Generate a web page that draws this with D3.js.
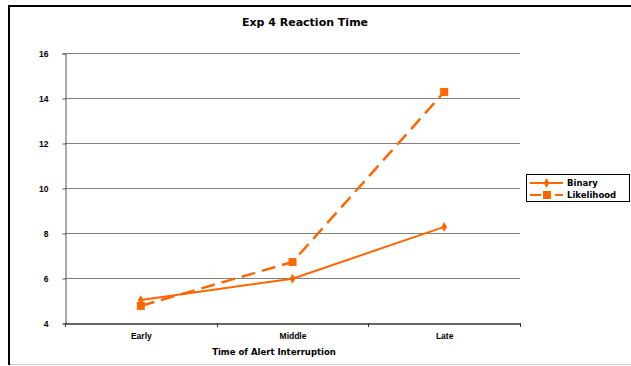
<!DOCTYPE html>
<html>
<head>
<meta charset="utf-8">
<script src="https://cdn.jsdelivr.net/npm/d3@7"></script>
<style>
  html, body { margin: 0; padding: 0; background: #fff; }
  svg { display: block; font-family: "DejaVu Sans", Verdana, sans-serif; }
</style>
</head>
<body>
<svg id="chart" width="631" height="366"></svg>
<script>
// Reaction time by alert interruption timing
const categories = ["Early", "Middle", "Late"];
const binary = [5.02, 5.97, 8.27];
const likelihood = [4.76, 6.71, 14.27];
const yTicks = [4, 6, 8, 10, 12, 14, 16];
const seriesNames = ["Binary", "Likelihood"];

const orange = "#ff6600";
const svg = d3.select("#chart");

// chart frame
svg.append("line").attr("x1", 9).attr("x2", 9).attr("y1", 5).attr("y2", 365)
  .attr("stroke", "#000").attr("stroke-width", 2);
svg.append("line").attr("x1", 8).attr("x2", 631).attr("y1", 6).attr("y2", 6)
  .attr("stroke", "#000").attr("stroke-width", 2);
svg.append("line").attr("x1", 10).attr("x2", 631).attr("y1", 364.5).attr("y2", 364.5)
  .attr("stroke", "#c8c8c8").attr("stroke-width", 1);

const plot = { left: 65, right: 520, top: 53, bottom: 323 };

const x = d3.scaleBand().domain(categories).range([plot.left, plot.right]);
const y = d3.scaleLinear().domain([4, 16]).range([plot.bottom, plot.top]);

// gridlines
svg.append("g").selectAll("line").data(yTicks.filter(t => t > 4)).join("line")
  .attr("x1", plot.left).attr("x2", plot.right)
  .attr("y1", d => Math.round(y(d)) + 0.5).attr("y2", d => Math.round(y(d)) + 0.5)
  .attr("stroke", "#808080").attr("stroke-width", 1);

// y axis
const yAxis = svg.append("g").attr("transform", `translate(${plot.left + 0.5},0.5)`)
  .call(d3.axisLeft(y).tickValues(yTicks).tickSize(3).tickPadding(14).tickFormat(d3.format("d")));
yAxis.select(".domain").attr("stroke", "#555");
yAxis.selectAll(".tick line").attr("stroke", "#555");
yAxis.selectAll("text").attr("font-size", 8.5).attr("font-weight", "bold").attr("fill", "#000");

// x axis
const xAxis = svg.append("g").attr("transform", `translate(0.5,${plot.bottom + 0.5})`)
  .call(d3.axisBottom(x).tickSize(0).tickPadding(9));
xAxis.select(".domain").attr("stroke", "#333").attr("stroke-width", 1.5);
xAxis.selectAll("text").attr("font-size", 8.5).attr("font-weight", "bold").attr("fill", "#000");
// category boundary ticks
const bounds = categories.map(c => x(c)).concat([x.range()[1]]);
svg.append("g").selectAll("line").data(bounds).join("line")
  .attr("x1", d => Math.round(d) + 0.5).attr("x2", d => Math.round(d) + 0.5)
  .attr("y1", plot.bottom).attr("y2", plot.bottom + 4)
  .attr("stroke", "#333");

// title and axis label
svg.append("text").attr("x", 305).attr("y", 26).attr("text-anchor", "middle")
  .attr("font-size", 11).attr("font-weight", "bold").text("Exp 4 Reaction Time");
svg.append("text").attr("x", 274).attr("y", 355).attr("text-anchor", "middle")
  .attr("font-size", 8.5).attr("font-weight", "bold").text("Time of Alert Interruption");

const cx = c => x(c) + x.bandwidth() / 2;
const line = d3.line().x((d, i) => cx(categories[i])).y(d => y(d));

// Likelihood series (dashed, square markers)
svg.append("path").datum(likelihood).attr("d", line)
  .attr("fill", "none").attr("stroke", orange).attr("stroke-width", 2.5)
  .attr("stroke-dasharray", "14,7");
svg.append("g").selectAll("rect").data(likelihood).join("rect")
  .attr("x", (d, i) => cx(categories[i]) - 4).attr("y", d => y(d) - 4)
  .attr("width", 8).attr("height", 8).attr("fill", orange);

// Binary series (solid, diamond markers)
svg.append("path").datum(binary).attr("d", line)
  .attr("fill", "none").attr("stroke", orange).attr("stroke-width", 2);
const diamond = d3.symbol().type(d3.symbolDiamond).size(28);
svg.append("g").selectAll("path").data(binary).join("path")
  .attr("transform", (d, i) => `translate(${cx(categories[i])},${y(d)})`)
  .attr("d", diamond).attr("fill", orange);

// legend
const lg = svg.append("g");
lg.append("rect").attr("x", 526.5).attr("y", 174.5).attr("width", 103).attr("height", 27)
  .attr("fill", "#fff").attr("stroke", "#000").attr("stroke-width", 1);
const rows = [183, 195];
seriesNames.forEach((name, i) => {
  const yy = rows[i];
  const l = lg.append("line").attr("x1", 530).attr("x2", 563).attr("y1", yy).attr("y2", yy)
    .attr("stroke", orange).attr("stroke-width", 2);
  if (i === 0) {
    lg.append("path").attr("transform", `translate(546.5,${yy})`).attr("d", diamond).attr("fill", orange);
  } else {
    l.attr("stroke-dasharray", "11,14,8");
    lg.append("rect").attr("x", 543).attr("y", yy - 4).attr("width", 8).attr("height", 8).attr("fill", orange);
  }
  lg.append("text").attr("x", 567).attr("y", yy + 3).attr("font-size", 8.5)
    .attr("font-weight", "bold").text(name);
});
</script>
</body>
</html>
